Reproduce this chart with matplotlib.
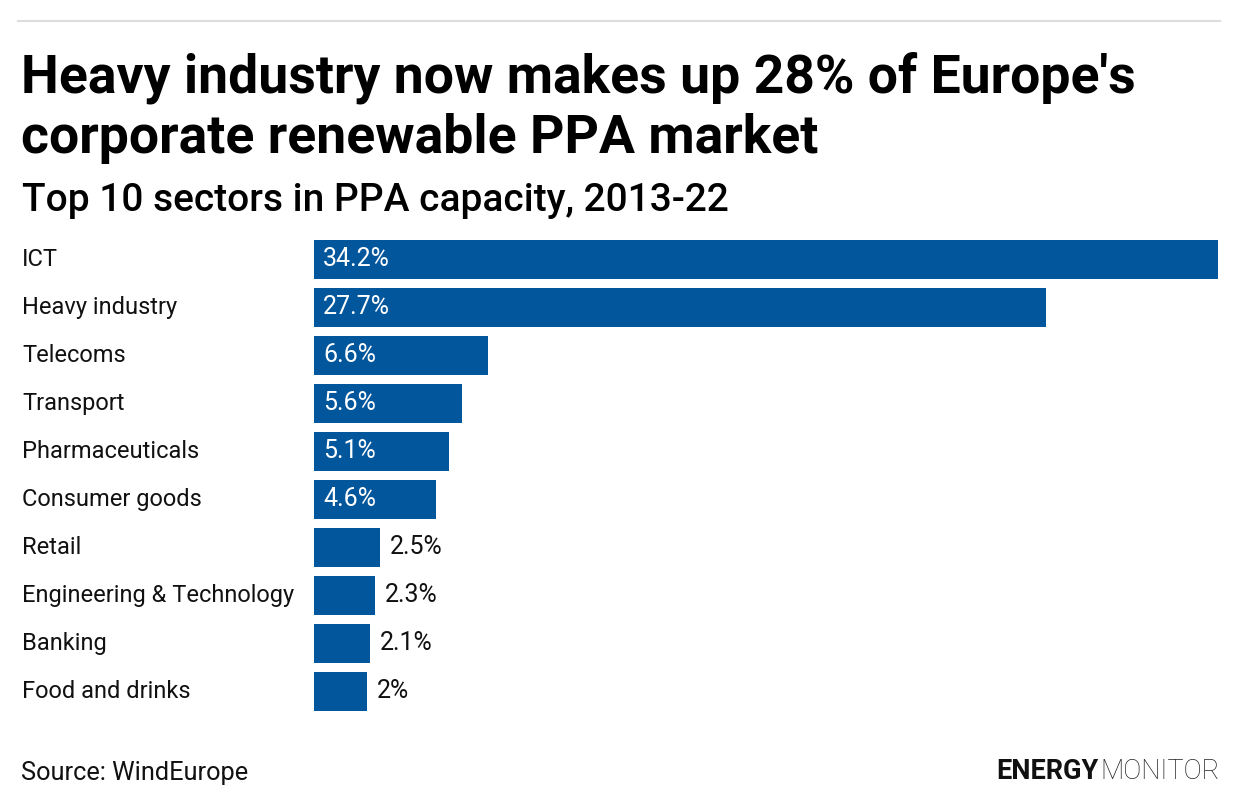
import matplotlib
matplotlib.use('Agg')
import matplotlib.pyplot as plt
import matplotlib.transforms as mtransforms
from matplotlib.lines import Line2D

sektorler = ['ICT', 'Heavy industry', 'Telecoms', 'Transport', 'Pharmaceuticals',
             'Consumer goods', 'Retail', 'Engineering & Technology', 'Banking',
             'Food and drinks']
paylar = [34.2, 27.7, 6.6, 5.6, 5.1, 4.6, 2.5, 2.3, 2.1, 2.0]
etiketler = ['34.2%', '27.7%', '6.6%', '5.6%', '5.1%', '4.6%', '2.5%', '2.3%', '2.1%', '2%']

plt.rcParams['font.family'] = ['Roboto', 'DejaVu Sans']
mavi = '#02569b'
W, H = 1240, 808

fig = plt.figure(figsize=(W / 100, H / 100), dpi=100)
fig.patch.set_facecolor('white')

# ust gri cizgi
fig.add_artist(Line2D([18 / W, 1220 / W], [1 - 21 / H, 1 - 21 / H],
                      color='#dddddd', lw=1.5, transform=fig.transFigure))

fig.text(21 / W, 1 - 93 / H, "Heavy industry now makes up 28% of Europe's",
         fontsize=38.5, fontweight='bold', color='black', va='baseline')
fig.text(21 / W, 1 - 153 / H, "corporate renewable PPA market",
         fontsize=38.5, fontweight='bold', color='black', va='baseline')
fig.text(22 / W, 1 - 211 / H, "Top 10 sectors in PPA capacity, 2013-22",
         fontsize=28, fontweight='medium', color='black', va='baseline')

ax = fig.add_axes([314 / W, 1 - 711 / H, (1218 - 314) / W, (711 - 240) / H])
y = list(range(len(sektorler)))
yuk = 0.8125
ax.barh(y, paylar, height=yuk, color=mavi)
ax.set_xlim(0, 34.2)
ax.set_ylim(len(sektorler) - 1 + yuk / 2, -yuk / 2)
ax.axis('off')

tr = mtransforms.blended_transform_factory(fig.transFigure, ax.transData)
for i, (s, p, e) in enumerate(zip(sektorler, paylar, etiketler)):
    ax.text(22 / W, i, s, transform=tr, fontsize=17, va='center', ha='left', color='#111111')
    if p > 4:
        ax.text(0.34, i, e, fontsize=18, va='center', ha='left', color='white')
    else:
        ax.text(p + 0.38, i, e, fontsize=18, va='center', ha='left', color='#111111')

fig.text(21 / W, 1 - 780 / H, 'Source: WindEurope', fontsize=18.3, color='#111111', va='baseline')
t1 = fig.text(1220 / W, 1 - 779 / H, 'MONITOR', fontsize=19.5, fontweight='light',
              color='#222222', ha='right', va='baseline')
fig.canvas.draw()
bb = t1.get_window_extent()
fig.text((bb.x0 - 2) / W, 1 - 779 / H, 'ENERGY', fontsize=19.5, fontweight='bold',
         color='#111111', ha='right', va='baseline')

fig.savefig('out.png', dpi=100)
